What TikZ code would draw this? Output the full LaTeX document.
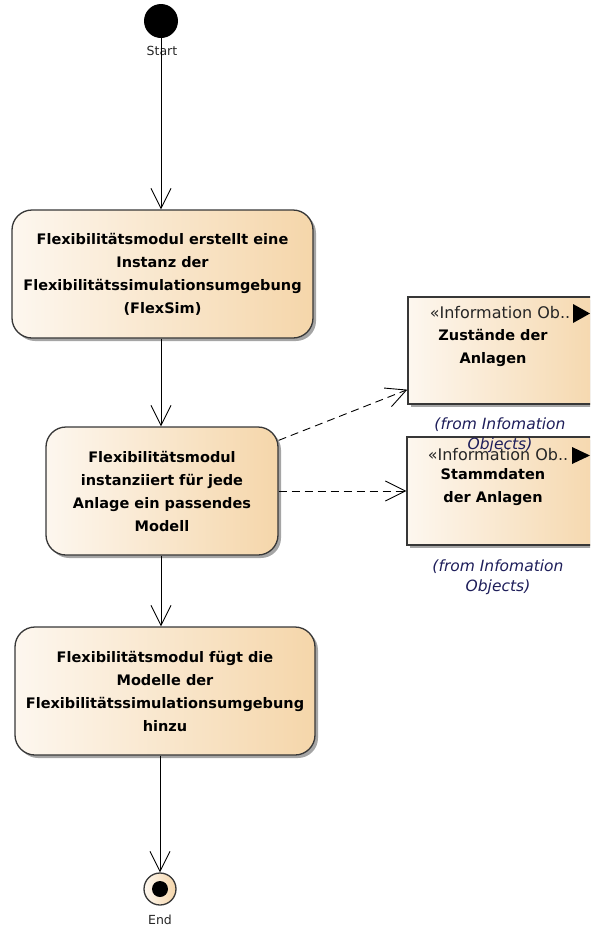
\documentclass[tikz,border=0pt]{standalone}
\usepackage{fontspec}
\setmainfont{DejaVu Sans}
\usetikzlibrary{arrows.meta,shadows}

\definecolor{actlight}{RGB}{253,247,239}
\definecolor{actdark}{RGB}{245,214,170}
\definecolor{edgegray}{RGB}{55,55,55}
\definecolor{fromblue}{RGB}{30,30,90}

\begin{document}
\begin{tikzpicture}[x=1pt, y=-1pt, >={Straight Barb[length=20pt,width=20pt]},
  line width=0.9pt,
  shaded/.style={left color=actlight, right color=actdark, draw=edgegray, line width=1.3pt},
  shadow/.style={drop shadow={shadow xshift=3pt, shadow yshift=-3pt, fill=black!70, opacity=.5}},
  action/.style={shaded, shadow, rounded corners=20pt, inner sep=0pt, align=center,
    font=\bfseries\fontsize{14.5}{23}\selectfont},
  infobox/.style={shaded, shadow, inner sep=0pt, minimum width=200pt},
  stereo/.style={font=\fontsize{16}{18}\selectfont, text=black!85},
  infoname/.style={align=center, font=\bfseries\fontsize{14.5}{23}\selectfont},
  fromlbl/.style={align=center, text=fromblue, font=\itshape\fontsize{15.5}{20}\selectfont},
  statelbl/.style={font=\fontsize{12.5}{15}\selectfont, text=black!85},
  dep/.style={dash pattern=on 8pt off 5pt}]
\useasboundingbox (0,0) rectangle (590,930);
\clip (0,0) rectangle (590,930);

% initial and final node
\node[circle, fill=black, minimum size=34pt, inner sep=0pt] (start) at (161,21) {};
\node[statelbl] (startlbl) at (162,51) {Start};
\node[circle, shaded, minimum size=32pt, inner sep=0pt] (end) at (160,889) {};
\fill (end) circle (8);
\node[statelbl] (endlbl) at (160,920) {End};

% actions
\node[action, minimum width=301pt, minimum height=128pt] (act1) at (162.5,274)
  {Flexibilitätsmodul erstellt eine\\Instanz der\\Flexibilitätssimulationsumgebung\\(FlexSim)};
\node[action, minimum width=232pt, minimum height=128pt] (act2) at (162,491)
  {Flexibilitätsmodul\\instanziiert für jede\\Anlage ein passendes\\Modell};
\node[action, minimum width=300pt, minimum height=128pt] (act3) at (165,691)
  {Flexibilitätsmodul fügt die\\Modelle der\\Flexibilitätssimulationsumgebung\\hinzu};

% information objects
\node[infobox, minimum height=107pt] (infoA) at (508,350.5) {};
\node[stereo] (stA) at (500,313) {«Information Ob..};
\fill (573,304) -- (590,313.5) -- (573,323) -- cycle;
\node[infoname] (nmA) at (493,347.5) {Zustände der\\Anlagen};

\node[infobox, minimum height=108pt] (infoB) at (507,491) {};
\node[stereo] (stB) at (498,455) {«Information Ob..};
\fill (572,447) -- (590,455.5) -- (572,464) -- cycle;
\node[infoname] (nmB) at (493,487.5) {Stammdaten\\der Anlagen};

% package notes, the upper one runs into the box below
\node[fromlbl] (frA) at (500,435.5) {(from Infomation\\Objects)};
\node[fromlbl] (frB) at (498,577.5) {(from Infomation\\Objects)};

% control flow
\draw[->] (start) -- (act1.north -| start);
\draw[->] (act1.south -| start) -- (act2.north -| start);
\draw[->] (act2.south -| start) -- (act3.north -| start);
\draw[->] (act3.south -| end) -- (end);

% dependencies
\draw[dep, ->] ([yshift=-14pt]act2.north east) -- ([yshift=15pt]infoA.south west);
\draw[dep, ->] (act2.east) -- (infoB.west);
\end{tikzpicture}
\end{document}
